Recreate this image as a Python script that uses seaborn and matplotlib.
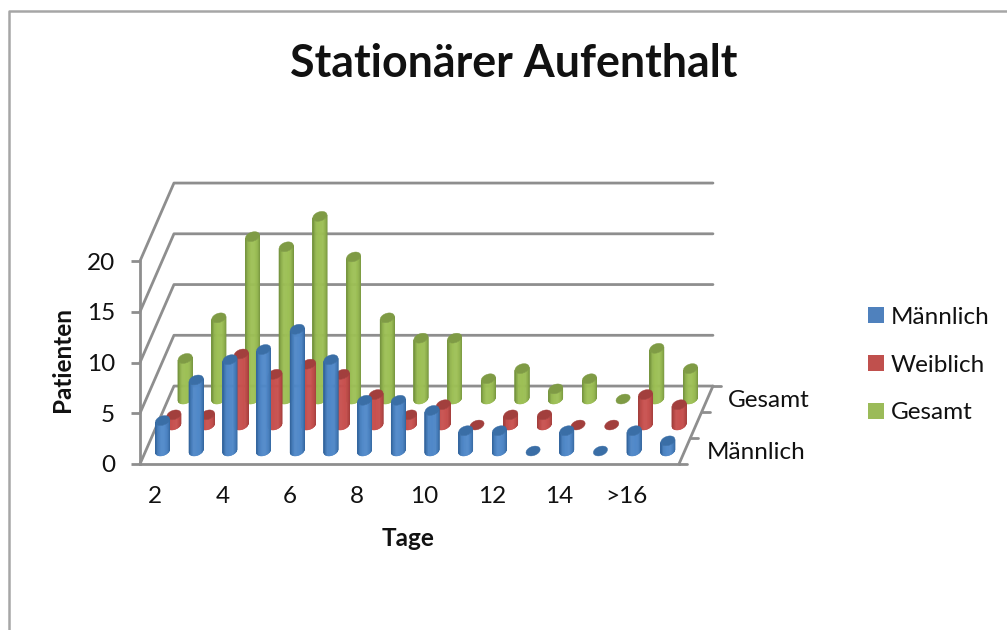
import numpy as np
import pandas as pd
import matplotlib
matplotlib.use("Agg")
import matplotlib.pyplot as plt
from matplotlib.lines import Line2D
from matplotlib.patches import Patch, Polygon
import seaborn as sns

categories = ["2","3","4","5","6","7","8","9","10","11","12","13","14","15",">16",""]
tick_labels = ["2","4","6","8","10","12","14",">16"]
maennlich = [3,7,9,10,12,9,5,5,4,2,2,0,2,0,2,1]
weiblich = [1,1,7,5,6,5,3,1,2,0,1,1,0,0,3,2]
gesamt = [4,8,16,15,18,14,8,6,6,2,3,1,2,0,5,3]
series_names = ["Männlich","Weiblich","Gesamt"]
y_ticks = [0,5,10,15,20]

sns.set_theme(style="white")
plt.rcParams["font.family"] = ["Lato","DejaVu Sans"]
TXT = "#111111"; GRID = "#8e8e8e"; FS = 17.5

body = sns.color_palette(["#4f88c9","#c8504e","#9dc055"])
edge = sns.color_palette(["#34669e","#a33f3d","#779540"])
cap = sns.color_palette(["#3a6ea6","#a23f3d","#7f9b45"])
legend_cols = sns.color_palette(["#4f81bd","#c0504d","#9bbb59"])

W, H = 1007, 630
fig = plt.figure(figsize=(W/100, H/100), dpi=100, facecolor="white")
ax = fig.add_axes([140/W, (H-464)/H, 539/W, 203/H])
n = len(categories)
DX, DY = 0.336, 2.56

def proj(c, d, v):
    return c + DX*d, v + DY*d

# walls and floor, through seaborn
rows = []
def add(u, pts):
    for p in pts:
        x, y = proj(*p)
        rows.append(dict(u=u, x=x, y=y))
for v in y_ticks:
    add(f"w{v}", [(0,0,v),(0,3,v),(n,3,v)])
add("floor", [(n,0,0),(n,3,0)])
for d in range(4):
    add(f"t{d}", [(n,d,0),(n+0.24,d,0)])
wall = pd.DataFrame(rows)
sns.lineplot(data=wall, x="x", y="y", units="u", estimator=None, sort=False,
             color=GRID, lw=2.0, legend=False, ax=ax, clip_on=False, zorder=1)

rx, rd = 0.2, 0.19
t0 = np.arctan2(rd*11.3, rx*33.7)

def cylinder(c, d, v, i, z):
    if v > 0:
        ts = np.linspace(t0, t0-np.pi, 25)
        xs = np.array([proj(c+rx*np.cos(t), d+rd*np.sin(t), 0) for t in ts])
        for k in range(len(ts)-1):
            u = (xs[k,0]+xs[k+1,0])/2 - (c+DX*d)
            u = abs(u)/(xs[0,0]-xs[-1,0])*2
            f = np.clip(u**3, 0, 1)
            col = tuple((1-f)*np.array(body[i]) + f*np.array(edge[i]))
            q = [xs[k], xs[k+1], xs[k+1]+[0,v], xs[k]+[0,v]]
            ax.add_patch(Polygon(q, closed=True, fc=col, ec=col, lw=0.4, zorder=z, clip_on=False))
    ts = np.linspace(0, 2*np.pi, 50)
    top = [proj(c+rx*np.cos(t), d+rd*np.sin(t), v) for t in ts]
    ax.add_patch(Polygon(top, closed=True, fc=cap[i], ec=cap[i], lw=0.3, zorder=z+0.1, clip_on=False))

for i, vals in reversed(list(enumerate([maennlich, weiblich, gesamt]))):
    for j, v in enumerate(vals):
        cylinder(j+0.5, i+0.5, v, i, 2+(2-i)*1+j*0.01)

ax.set_xlim(0, n); ax.set_ylim(0, 20)
ax.set_facecolor("none")
ax.set_xticks(np.arange(0.45, 15, 2)); ax.set_xticklabels(tick_labels)
ax.set_yticks(y_ticks)
ax.tick_params(axis="x", length=0, pad=16, labelsize=FS, labelcolor=TXT)
ax.tick_params(axis="y", length=6.5, width=2.0, color=GRID, left=True, pad=11.5, labelsize=FS, labelcolor=TXT)
sns.despine(ax=ax, top=True, right=True)
for s in ("left","bottom"):
    ax.spines[s].set_color(GRID); ax.spines[s].set_linewidth(2.0)
ax.set_xlabel(""); ax.set_ylabel("")

fig.text(408/W, 1-538/H, "Tage", fontsize=FS, fontweight="bold", color=TXT, ha="center", va="center")
fig.text(62/W, 1-360/H, "Patienten", fontsize=FS, fontweight="bold", color=TXT, rotation=90, ha="center", va="center")
fig.text(514/W, 1-64/H, "Stationärer Aufenthalt", fontsize=32.2, fontweight="bold", color=TXT, ha="center", va="center")

# depth axis labels
for d, name, off in [(0.5, series_names[0], 16), (2.5, series_names[2], 15)]:
    ax.annotate(name, xy=proj(n, d, 0), xytext=(off, -1.2), textcoords="offset points",
                fontsize=FS, color=TXT, ha="left", va="center", annotation_clip=False)

handles = [Patch(fc=c, ec="none") for c in legend_cols]
fig.legend(handles, series_names, loc="upper left", bbox_to_anchor=(868/W, 1-307/H),
           frameon=False, fontsize=FS, labelcolor=TXT, handlelength=0.64, handleheight=0.64,
           handletextpad=0.29, labelspacing=1.1, borderaxespad=0, borderpad=0)

fig.add_artist(Line2D([1, 8.5/W, 8.5/W], [1-11/H, 1-11/H, 0], color="#a6a6a6", lw=1.8))
fig.savefig("out.png", dpi=100, facecolor="white")
